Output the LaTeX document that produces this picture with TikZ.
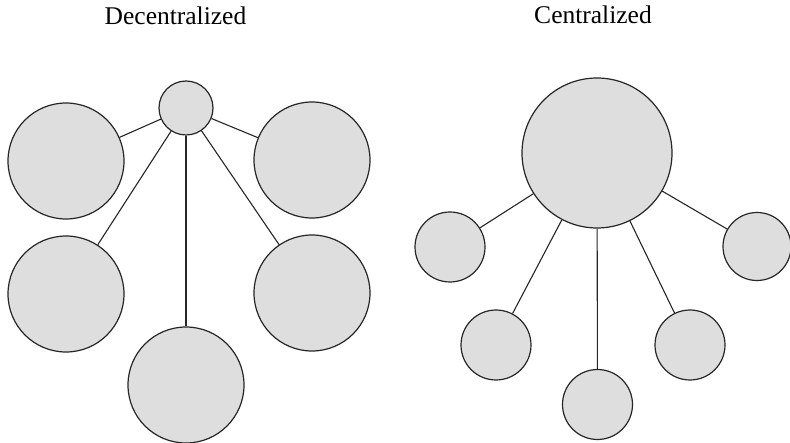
\documentclass[tikz,border=0pt]{standalone}
\usepackage{fontspec}
\setmainfont{Liberation Serif}
\begin{document}
\begin{tikzpicture}[x=1pt,y=-1pt,
  unit/.style={circle,draw=black!85,fill=black!13,line width=1.2pt,inner sep=0pt,minimum size=#1},
  link/.style={draw=black!85,line width=1.1pt},
  title/.style={anchor=base,font=\fontsize{25.5}{30}\selectfont}]
\useasboundingbox (0,0) rectangle (790,443);

% Decentralized organisation
\node[title] (tdec) at (175.5,25) {Decentralized};
\node[unit=54pt]  (dh)  at (186,108) {};
\node[unit=116pt] (dtl) at (66,161) {};
\node[unit=116pt] (dtr) at (312,160) {};
\node[unit=116pt] (dml) at (66,294) {};
\node[unit=116pt] (dmr) at (312,293) {};
\node[unit=116pt] (db)  at (186,385) {};
\foreach \n in {dtl,dtr,dml,dmr,db} \path[link] (dh) -- (\n);

% Centralized organisation
\node[title] (tcen) at (593,23.5) {Centralized};
\node[unit=150pt] (ch)  at (597,153) {};
\node[unit=70pt]  (cl)  at (450,247) {};
\node[unit=68pt]  (cr)  at (757,246.5) {};
\node[unit=70pt]  (cbl) at (496,345) {};
\node[unit=70pt]  (cbr) at (690,345) {};
\node[unit=70pt]  (cb)  at (597.5,404.5) {};
\foreach \n in {cl,cr,cbl,cbr,cb} \path[link] (ch) -- (\n);
\end{tikzpicture}
\end{document}
